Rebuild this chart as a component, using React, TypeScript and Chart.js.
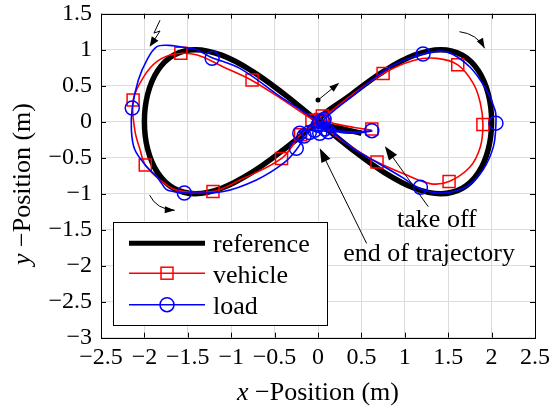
import React, { useEffect, useRef } from "react";
import { Chart, registerables } from "chart.js";

Chart.register(...registerables);

// ---------- data ----------
const xTickLabels = ["−2.5", "−2", "−1.5", "−1", "−0.5", "0", "0.5", "1", "1.5", "2", "2.5"];
const yTickLabels = ["−3", "−2.5", "−2", "−1.5", "−1", "−0.5", "0", "0.5", "1", "1.5"];

const referenceX = [0.5, 0.25, 0, 0.39, 0.765, 1.111, 1.414, 1.663, 1.848, 1.962, 2, 1.962, 1.848, 1.663, 1.414, 1.111, 0.765, 0.39, 0, -0.39, -0.765, -1.111, -1.414, -1.663, -1.848, -1.962, -2, -1.962, -1.848, -1.663, -1.414, -1.111, -0.765, -0.39, 0];
const referenceY = [-0.16, -0.09, 0, 0.383, 0.707, 0.924, 1, 0.924, 0.707, 0.383, 0, -0.383, -0.707, -0.924, -1, -0.924, -0.707, -0.383, 0, 0.383, 0.707, 0.924, 1, 0.924, 0.707, 0.383, 0, -0.383, -0.707, -0.924, -1, -0.924, -0.707, -0.383, 0];

const vehicleX = [0.62, 0.42, 0.2, 0.04, 0.03, 0.12, 0.41, 0.75, 1.1, 1.37, 1.61, 1.79, 1.87, 1.9, 1.87, 1.75, 1.51, 1.29, 0.98, 0.68, 0.4, 0.18, 0.0, -0.1, -0.4, -0.77, -1.09, -1.4, -1.65, -1.85, -2.01, -2.13, -2.11, -2.05, -1.99, -1.82, -1.63, -1.21, -0.9, -0.42, -0.2, -0.05];
const vehicleY = [-0.12, -0.08, -0.03, 0.03, 0.07, 0.12, 0.39, 0.67, 0.85, 0.88, 0.79, 0.53, 0.26, -0.04, -0.35, -0.63, -0.83, -0.86, -0.72, -0.56, -0.36, -0.18, 0.0, 0.06, 0.3, 0.58, 0.76, 0.93, 0.94, 0.84, 0.62, 0.3, -0.12, -0.39, -0.6, -0.81, -0.95, -0.97, -0.81, -0.51, -0.18, -0.05];
const vehicleMarkerX = [0.62, 0.03, 0.05, 0.75, 1.61, 1.9, 1.51, 0.68, -0.07, -0.76, -1.58, -2.13, -1.99, -1.21, -0.42, -0.2];
const vehicleMarkerY = [-0.1, 0.03, 0.08, 0.67, 0.79, -0.04, -0.83, -0.56, 0.02, 0.58, 0.95, 0.3, -0.6, -0.97, -0.51, -0.18];

const loadX = [0.62, 0.45, 0.25, 0.1, 0.03, 0.06, 0.2, 0.39, 0.83, 1.21, 1.48, 1.75, 1.94, 2.04, 2.05, 2.02, 1.9, 1.71, 1.44, 1.18, 0.98, 0.7, 0.39, 0.1, -0.05, -0.4, -0.9, -1.24, -1.4, -1.59, -1.72, -1.86, -1.97, -2.07, -2.14, -2.15, -2.11, -1.97, -1.86, -1.8, -1.75, -1.67, -1.54, -1.09, -0.71, -0.4, -0.25, -0.17, -0.21, -0.05, 0.15, 0.4, 0.62, 0.35, 0.1, 0.02];
const loadY = [-0.13, -0.14, -0.13, -0.08, -0.03, 0.02, 0.17, 0.35, 0.76, 0.94, 0.97, 0.76, 0.44, 0.16, -0.02, -0.35, -0.67, -0.9, -0.99, -0.93, -0.78, -0.58, -0.36, -0.08, 0.05, 0.32, 0.74, 0.9, 1.0, 1.04, 1.06, 1.04, 0.86, 0.58, 0.19, -0.12, -0.39, -0.63, -0.76, -0.86, -0.94, -0.97, -0.99, -0.97, -0.81, -0.58, -0.39, -0.21, -0.14, -0.12, -0.14, -0.14, -0.13, -0.16, -0.1, -0.05];
const loadMarkerX = [0.62, 0.06, 0.12, 0.0, 1.21, 2.05, 1.18, -1.22, -2.14, -1.54, -0.25, -0.21, -0.16, -0.1, -0.04, 0.02, 0.08, 0.02, 0.07];
const loadMarkerY = [-0.125, 0.0, -0.14, -0.05, 0.94, -0.02, -0.91, 0.88, 0.19, -0.99, -0.37, -0.16, -0.2, -0.15, -0.12, -0.16, -0.1, 0.0, 0.03];

const legendLabels = ["reference", "vehicle", "load"];

// ---------- helpers ----------
const zip = (xs: number[], ys: number[]) => xs.map((x, i) => ({ x, y: ys[i] }));
const SERIF = '"Liberation Serif", "Times New Roman", serif';

function arrowHead(ctx: CanvasRenderingContext2D, x: number, y: number, ang: number, len = 10, half = 3.5) {
  ctx.beginPath();
  ctx.moveTo(x, y);
  ctx.lineTo(x - len * Math.cos(ang) + half * Math.sin(ang), y - len * Math.sin(ang) - half * Math.cos(ang));
  ctx.lineTo(x - len * Math.cos(ang) - half * Math.sin(ang), y - len * Math.sin(ang) + half * Math.cos(ang));
  ctx.closePath();
  ctx.fill();
}

const decorPlugin = {
  id: "decor",
  afterDraw(chart: any) {
    const { ctx, chartArea: a, scales } = chart;
    const sx = scales.x, sy = scales.y;
    const px = (v: number) => sx.getPixelForValue(v);
    const py = (v: number) => sy.getPixelForValue(v);
    ctx.save();
    // box
    ctx.strokeStyle = "#000";
    ctx.lineWidth = 1;
    ctx.strokeRect(Math.round(a.left) + 0.5, Math.round(a.top) + 0.5, Math.round(a.right - a.left), Math.round(a.bottom - a.top));
    // inward tick marks
    ctx.beginPath();
    sx.ticks.forEach((t: any) => {
      const x = Math.round(px(t.value)) + 0.5;
      ctx.moveTo(x, a.bottom); ctx.lineTo(x, a.bottom - 5);
      ctx.moveTo(x, a.top); ctx.lineTo(x, a.top + 5);
    });
    sy.ticks.forEach((t: any) => {
      const y = Math.round(py(t.value)) + 0.5;
      ctx.moveTo(a.left, y); ctx.lineTo(a.left + 5, y);
      ctx.moveTo(a.right, y); ctx.lineTo(a.right - 5, y);
    });
    ctx.stroke();

    // axis titles
    const measure = (italic: string, rest: string) => {
      ctx.font = `italic 26px ${SERIF}`;
      const w1 = ctx.measureText(italic).width;
      ctx.font = `26px ${SERIF}`;
      const w2 = ctx.measureText(rest).width;
      return { w1, w2 };
    };
    ctx.fillStyle = "#000";
    ctx.textBaseline = "alphabetic";
    ctx.textAlign = "left";
    {
      const { w1, w2 } = measure("x", " −Position (m)");
      const cx = (a.left + a.right) / 2;
      const x0 = cx - (w1 + w2) / 2;
      ctx.font = `italic 26px ${SERIF}`;
      ctx.fillText("x", x0, 400);
      ctx.font = `26px ${SERIF}`;
      ctx.fillText(" −Position (m)", x0 + w1, 400);
    }
    {
      const { w1, w2 } = measure("y", " −Position (m)");
      ctx.save();
      ctx.translate(30, 184);
      ctx.rotate(-Math.PI / 2);
      const x0 = -(w1 + w2) / 2;
      ctx.font = `italic 26px ${SERIF}`;
      ctx.fillText("y", x0, 0);
      ctx.font = `26px ${SERIF}`;
      ctx.fillText(" −Position (m)", x0 + w1, 0);
      ctx.restore();
    }

    // annotations (data coordinates)
    ctx.strokeStyle = "#000";
    ctx.fillStyle = "#000";
    ctx.lineWidth = 1;
    const straightArrow = (x1: number, y1: number, x2: number, y2: number) => {
      const X1 = px(x1), Y1 = py(y1), X2 = px(x2), Y2 = py(y2);
      const ang = Math.atan2(Y2 - Y1, X2 - X1);
      ctx.beginPath();
      ctx.moveTo(X1, Y1);
      ctx.lineTo(X2 - 10 * Math.cos(ang), Y2 - 10 * Math.sin(ang));
      ctx.stroke();
      arrowHead(ctx, X2, Y2, ang, 14, 5);
    };
    const curvedArrow = (x1: number, y1: number, cxv: number, cyv: number, x2: number, y2: number) => {
      const X1 = px(x1), Y1 = py(y1), CX = px(cxv), CY = py(cyv), X2 = px(x2), Y2 = py(y2);
      ctx.beginPath();
      ctx.moveTo(X1, Y1);
      ctx.quadraticCurveTo(CX, CY, X2, Y2);
      ctx.stroke();
      const ang = Math.atan2(Y2 - CY, X2 - CX);
      arrowHead(ctx, X2, Y2, ang, 10, 3.5);
    };
    // take off
    straightArrow(1.27, -1.18, 0.77, -0.34);
    // end of trajectory
    straightArrow(0.56, -1.69, 0.02, -0.37);
    // center direction arrow
    ctx.beginPath();
    ctx.arc(px(0), py(0.3), 2.5, 0, Math.PI * 2);
    ctx.fill();
    {
      const X1 = px(0), Y1 = py(0.3), X2 = px(0.245), Y2 = py(0.54);
      const ang = Math.atan2(Y2 - Y1, X2 - X1);
      ctx.beginPath();
      ctx.moveTo(X1, Y1);
      ctx.lineTo(X2 - 6 * Math.cos(ang), Y2 - 6 * Math.sin(ang));
      ctx.stroke();
      arrowHead(ctx, X2, Y2, ang, 10, 3.5);
    }
    // curved arrows
    curvedArrow(1.63, 1.25, 1.83, 1.22, 1.92, 1.02);
    curvedArrow(-1.94, -1.02, -1.86, -1.22, -1.65, -1.23);
    // lightning
    {
      ctx.beginPath();
      ctx.moveTo(px(-1.82), py(1.41));
      ctx.lineTo(px(-1.89), py(1.23));
      ctx.lineTo(px(-1.82), py(1.26));
      ctx.lineTo(px(-1.91), py(1.09));
      ctx.stroke();
      const ang = Math.atan2(py(1.04) - py(1.26), px(-1.94) - px(-1.82));
      arrowHead(ctx, px(-1.94), py(1.04), ang, 10, 4);
    }
    ctx.font = `26px ${SERIF}`;
    ctx.textAlign = "center";
    ctx.fillText("take off", px(1.37), py(-1.46));
    ctx.fillText("end of trajectory", px(1.28), py(-1.94));

    // legend
    const lx = a.left + 12, ly = a.top + 208;
    const lw = 214, lh = 103;
    ctx.fillStyle = "#fff";
    ctx.fillRect(lx, ly, lw, lh);
    ctx.strokeStyle = "#000";
    ctx.lineWidth = 1;
    ctx.strokeRect(Math.round(lx) + 0.5, Math.round(ly) + 0.5, lw, lh);
    const rows = [
      { color: "#000", lw: 5, marker: "", y: ly + 21.5, base: ly + 30 },
      { color: "#ff0000", lw: 1.5, marker: "rect", y: ly + 51.5, base: ly + 61 },
      { color: "#0000ff", lw: 1.5, marker: "circle", y: ly + 83, base: ly + 92.5 },
    ];
    rows.forEach((r, i) => {
      ctx.strokeStyle = r.color;
      ctx.lineWidth = r.lw;
      ctx.beginPath();
      ctx.moveTo(lx + 16, r.y);
      ctx.lineTo(lx + 92, r.y);
      ctx.stroke();
      ctx.lineWidth = 1.5;
      const mx = lx + 54;
      if (r.marker === "rect") {
        ctx.strokeRect(mx - 6, r.y - 6, 12, 12);
      } else if (r.marker === "circle") {
        ctx.beginPath();
        ctx.arc(mx, r.y, 7, 0, Math.PI * 2);
        ctx.stroke();
      }
      ctx.fillStyle = "#000";
      ctx.textAlign = "left";
      ctx.font = `26px ${SERIF}`;
      ctx.fillText(legendLabels[i], lx + 100, r.base);
    });
    ctx.restore();
  },
};

export default function App() {
  const ref = useRef<HTMLCanvasElement | null>(null);
  useEffect(() => {
    if (!ref.current) return;
    const chart = new Chart(ref.current, {
      type: "scatter",
      data: {
        datasets: [
          {
            label: "load markers",
            data: zip(loadMarkerX, loadMarkerY),
            showLine: false,
            pointStyle: "circle",
            pointRadius: 7,
            pointBorderWidth: 1.5,
            borderColor: "#0000ff",
            backgroundColor: "rgba(0,0,0,0)",
          },
          {
            label: "load",
            data: zip(loadX, loadY),
            showLine: true,
            tension: 0.35,
            borderColor: "#0000ff",
            borderWidth: 1.6,
            pointRadius: 0,
          },
          {
            label: "vehicle markers",
            data: zip(vehicleMarkerX, vehicleMarkerY),
            showLine: false,
            pointStyle: "rect",
            pointRadius: 8.5,
            pointBorderWidth: 1.5,
            borderColor: "#ff0000",
            backgroundColor: "rgba(0,0,0,0)",
          },
          {
            label: "vehicle",
            data: zip(vehicleX, vehicleY),
            showLine: true,
            tension: 0.35,
            borderColor: "#ff0000",
            borderWidth: 1.6,
            pointRadius: 0,
          },
          {
            label: "reference",
            data: zip(referenceX, referenceY),
            showLine: true,
            tension: 0.4,
            borderColor: "#000000",
            borderWidth: 5.5,
            pointRadius: 0,
          },
        ],
      },
      options: {
        responsive: false,
        animation: false,
        devicePixelRatio: 1,
        layout: { padding: { left: 0, right: 16, top: 13.7, bottom: 0 } },
        plugins: { legend: { display: false }, tooltip: { enabled: false } },
        scales: {
          x: {
            type: "linear",
            min: -2.5,
            max: 2.5,
            afterFit: (s: any) => { s.height = 70.3; s.paddingLeft = 0; s.paddingRight = 0; },
            grid: { color: "#dcdcdc", lineWidth: 1, drawTicks: false },
            border: { display: false },
            ticks: {
              stepSize: 0.5,
              autoSkip: false,
              maxRotation: 0,
              padding: 6,
              color: "#000",
              font: { family: SERIF, size: 24 },
              callback: (_v: any, i: number) => xTickLabels[i],
            },
          },
          y: {
            type: "linear",
            min: -3,
            max: 1.5,
            afterFit: (s: any) => { s.width = 101; s.paddingTop = 0; s.paddingBottom = 0; },
            grid: { color: "#dcdcdc", lineWidth: 1, drawTicks: false },
            border: { display: false },
            ticks: {
              stepSize: 0.5,
              autoSkip: false,
              padding: 9,
              color: "#000",
              font: { family: SERIF, size: 24 },
              callback: (_v: any, i: number) => yTickLabels[i],
            },
          },
        },
      },
      plugins: [decorPlugin],
    });
    return () => chart.destroy();
  }, []);
  return (
    <div style={{ position: "absolute", left: 0, top: 0, width: 551, height: 408, background: "#fff" }}>
      <canvas ref={ref} width={551} height={408} />
    </div>
  );
}
